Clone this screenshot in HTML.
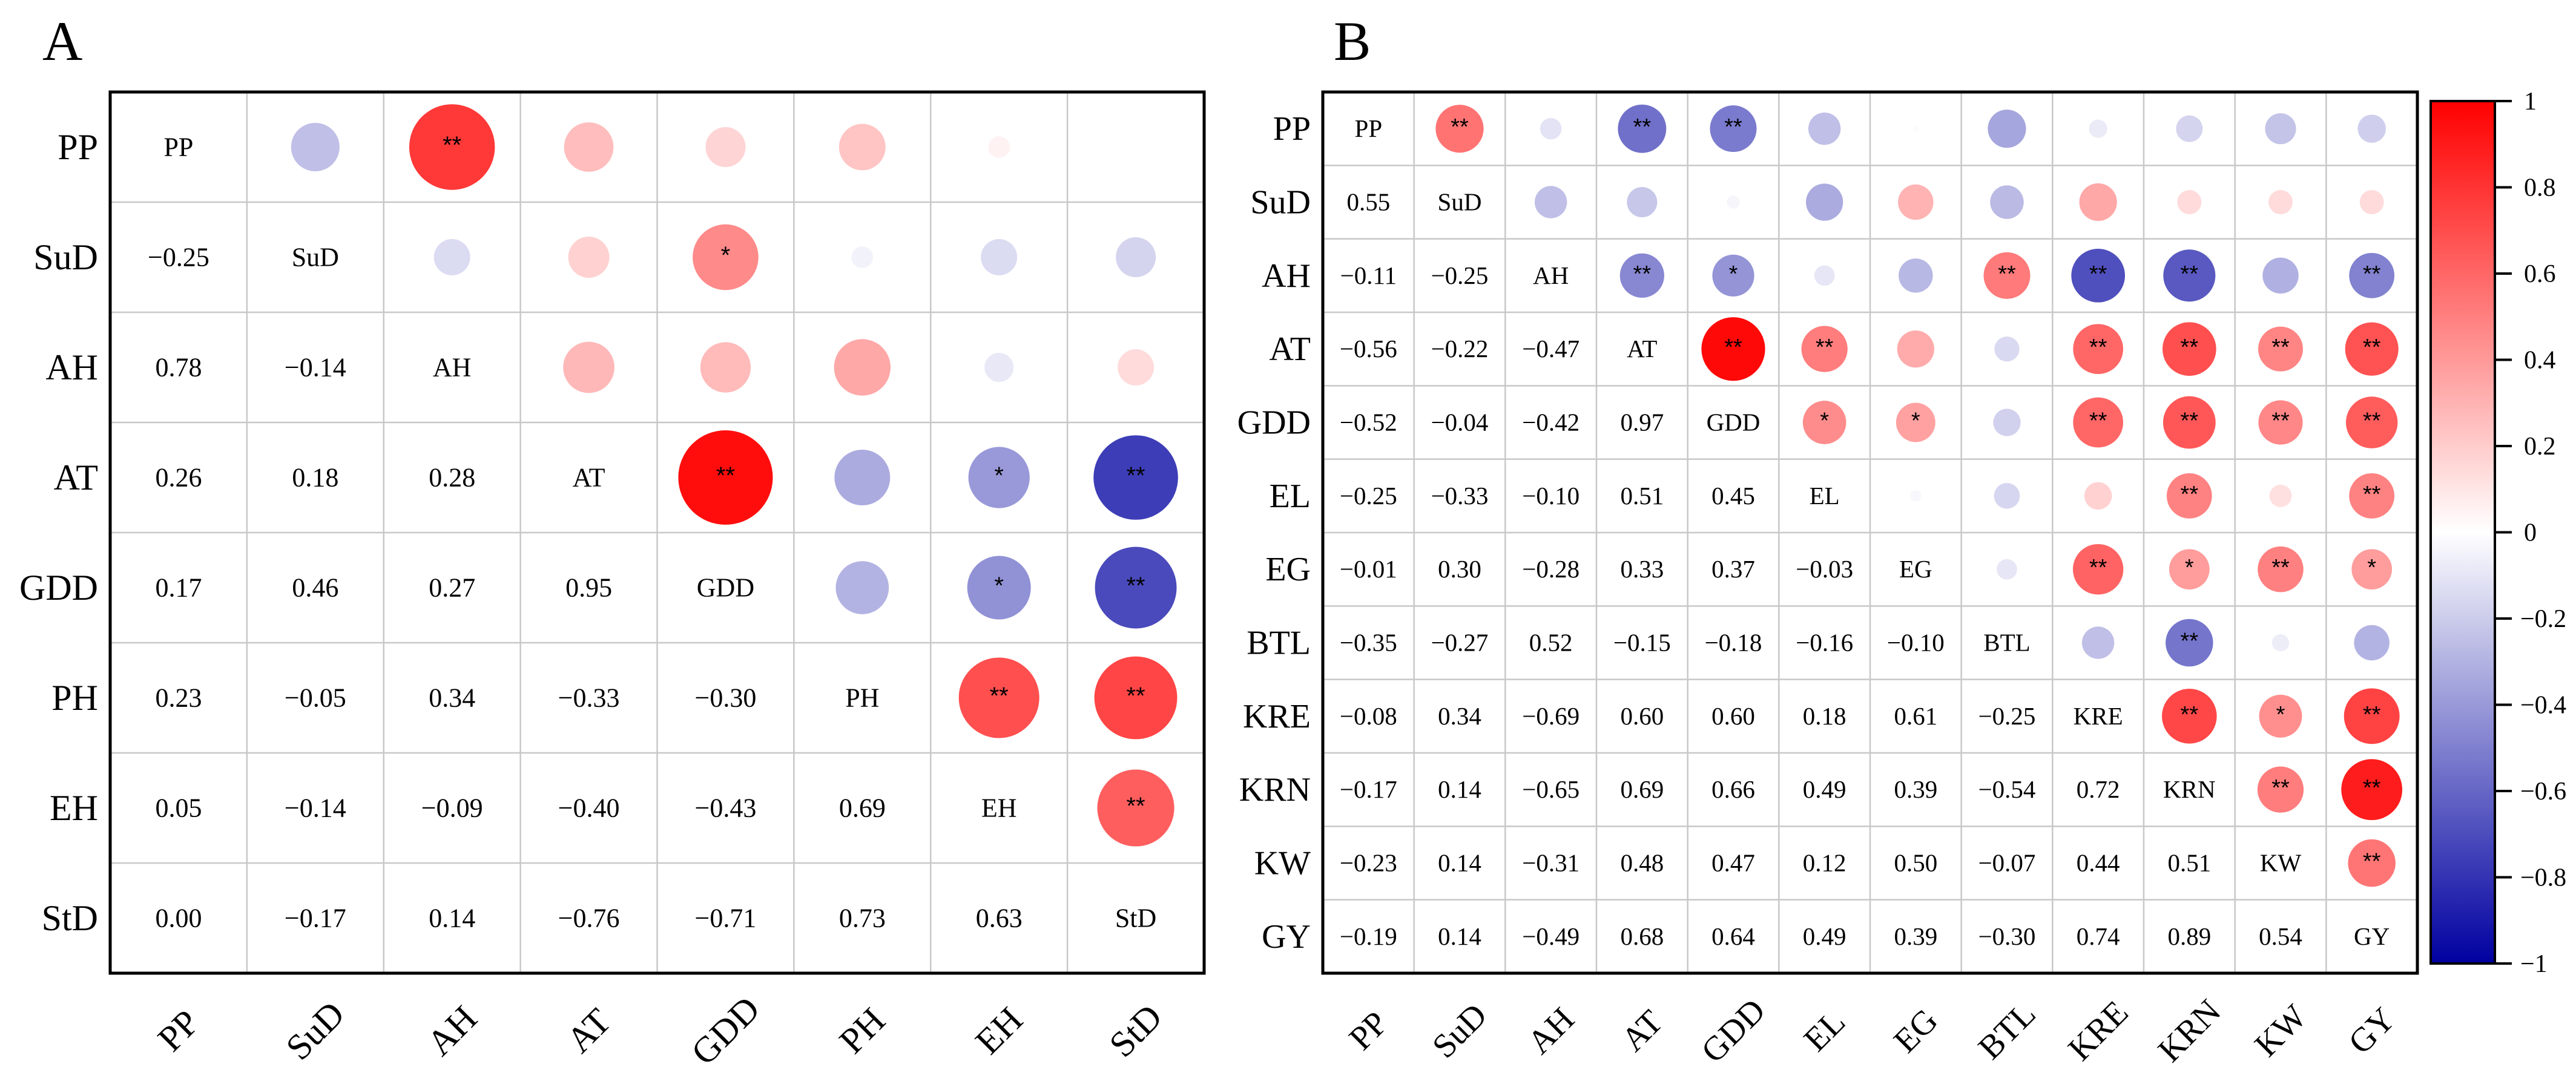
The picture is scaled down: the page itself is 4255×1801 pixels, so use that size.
<!DOCTYPE html>
<html><head><meta charset="utf-8"><style>
html,body{margin:0;padding:0;background:#fff;}
svg{display:block;font-family:"Liberation Serif",serif;}
</style></head><body>
<svg id="fig" width="4255" height="1801" viewBox="0 0 4255 1801" xmlns="http://www.w3.org/2000/svg">
<defs>
<linearGradient id="cbgrad" x1="0" y1="0" x2="0" y2="1">
<stop offset="0" stop-color="rgb(255,0,0)"/>
<stop offset="0.5" stop-color="rgb(255,255,255)"/>
<stop offset="1" stop-color="rgb(0,0,160)"/>
</linearGradient>
</defs>
</svg>
<script>
const varsA = ["PP","SuD","AH","AT","GDD","PH","EH","StD"];
const lowerA = [
[],
[-0.25],
[0.78,-0.14],
[0.26,0.18,0.28],
[0.17,0.46,0.27,0.95],
[0.23,-0.05,0.34,-0.33,-0.30],
[0.05,-0.14,-0.09,-0.40,-0.43,0.69],
[0.00,-0.17,0.14,-0.76,-0.71,0.73,0.63]
];
const starsA = {"0-2":"**","1-4":"*","3-4":"**","3-6":"*","3-7":"**","4-6":"*","4-7":"**","5-6":"**","5-7":"**","6-7":"**"};
const varsB = ["PP","SuD","AH","AT","GDD","EL","EG","BTL","KRE","KRN","KW","GY"];
const lowerB = [
[],
[0.55],
[-0.11,-0.25],
[-0.56,-0.22,-0.47],
[-0.52,-0.04,-0.42,0.97],
[-0.25,-0.33,-0.10,0.51,0.45],
[-0.01,0.30,-0.28,0.33,0.37,-0.03],
[-0.35,-0.27,0.52,-0.15,-0.18,-0.16,-0.10],
[-0.08,0.34,-0.69,0.60,0.60,0.18,0.61,-0.25],
[-0.17,0.14,-0.65,0.69,0.66,0.49,0.39,-0.54,0.72],
[-0.23,0.14,-0.31,0.48,0.47,0.12,0.50,-0.07,0.44,0.51],
[-0.19,0.14,-0.49,0.68,0.64,0.49,0.39,-0.30,0.74,0.89,0.54]
];
const starsB = {"0-1":"**","0-3":"**","0-4":"**",
"2-3":"**","2-4":"*","2-7":"**","2-8":"**","2-9":"**","2-11":"**",
"3-4":"**","3-5":"**","3-8":"**","3-9":"**","3-10":"**","3-11":"**",
"4-5":"*","4-6":"*","4-8":"**","4-9":"**","4-10":"**","4-11":"**",
"5-9":"**","5-11":"**",
"6-8":"**","6-9":"*","6-10":"**","6-11":"*",
"7-9":"**",
"8-9":"**","8-10":"*","8-11":"**",
"9-10":"**","9-11":"**",
"10-11":"**"};
const cbTicks = [1,0.8,0.6,0.4,0.2,0,-0.2,-0.4,-0.6,-0.8,-1];

const NS="http://www.w3.org/2000/svg";
const svg=document.getElementById('fig');
function mk(tag,attrs,parent){const e=document.createElementNS(NS,tag);for(const k in attrs)e.setAttribute(k,attrs[k]);(parent||svg).appendChild(e);return e;}
function color(r){
  if(r>=0){const t=r;return `rgb(255,${Math.round(255*(1-t))},${Math.round(255*(1-t))})`;}
  const t=-r;return `rgb(${Math.round(255*(1-t))},${Math.round(255*(1-t))},${Math.round(255-95*t)})`;
}
function fmt(v){const s=Math.abs(v).toFixed(2);return (v<0?"\u22120":"0")+s.slice(1);}

function panel(o){
  const n=o.vars.length;
  const cw=(o.x1-o.x0)/n, ch=(o.y1-o.y0)/n;
  const xs=i=>o.x0+cw*(i+0.5), ys=i=>o.y0+ch*(i+0.5);
  const g=mk('g',{});
  
  
  const val=(i,j)=> i>j? o.lower[i][j] : o.lower[j][i];
  // grid
  for(let k=1;k<n;k++){
    const gx=mk('line',{x1:o.x0+cw*k,x2:o.x0+cw*k,y1:o.y0,y2:o.y1,stroke:'#c8c8c8','stroke-width':2.5},g);
    
    
    const gy=mk('line',{y1:o.y0+ch*k,y2:o.y0+ch*k,x1:o.x0,x2:o.x1,stroke:'#c8c8c8','stroke-width':2.5},g);
    
    
  }
  const rmax=Math.min(cw,ch)/2*0.88;
  for(let i=0;i<n;i++){
    for(let j=0;j<n;j++){
      if(i===j){
        const t=mk('text',{x:xs(j),y:ys(i)+o.cf*0.33,'font-size':o.cf,'text-anchor':'middle'},g);
        t.textContent=o.vars[i];
        
        
      } else if(i>j){
        const t=mk('text',{x:xs(j),y:ys(i)+o.cf*0.33,'font-size':o.cf,'text-anchor':'middle'},g);
        t.textContent=fmt(val(i,j));
        
        
      } else {
        const v=val(i,j);
        const c=mk('circle',{cx:xs(j),cy:ys(i),r:rmax*Math.sqrt(Math.abs(v)),fill:color(v)},g);
        
        
        const st=o.stars[i+'-'+j];
        if(st){
          const s=mk('text',{x:xs(j),y:ys(i)+o.sf*0.25,'font-size':o.sf,'text-anchor':'middle','font-family':'Liberation Sans, sans-serif'},g);
          s.textContent=st;
          
          
        }
      }
    }
    const rl=mk('text',{x:o.x0-20,y:ys(i)+o.lf*0.33,'font-size':o.lf,'text-anchor':'end'},g);
    rl.textContent=o.vars[i];
    
    
    const cx=xs(i), cy=o.y1+95;
    const cl=mk('text',{x:cx,y:cy+o.lf*0.33,'font-size':o.lf,'text-anchor':'middle',transform:`rotate(-45 ${cx} ${cy})`},g);
    cl.textContent=o.vars[i];
    
    
  }
  const b=mk('rect',{x:o.x0,y:o.y0,width:o.x1-o.x0,height:o.y1-o.y0,fill:'none',stroke:'#000','stroke-width':5},g);
  
  
  const pl=mk('text',{x:o.lx,y:o.ly,'font-size':92},g);
  pl.textContent=o.label;
  
  
}
panel({name:'panel-a',vars:varsA,lower:lowerA,stars:starsA,x0:182,x1:1989,y0:152,y1:1608,cf:44,lf:60,sf:40,label:'A',lx:70,ly:99});
panel({name:'panel-b',vars:varsB,lower:lowerB,stars:starsB,x0:2185,x1:3993,y0:152,y1:1608,cf:41,lf:56,sf:38,label:'B',lx:2203,ly:99});

// colorbar
const cbx0=4015,cbx1=4121,cby0=167,cby1=1592;
const cbY=v=>cby0+(1-v)/2*(cby1-cby0);
const cb=mk('rect',{x:cbx0,y:cby0,width:cbx1-cbx0,height:cby1-cby0,fill:'url(#cbgrad)',stroke:'#000','stroke-width':4});


cbTicks.forEach(v=>{
  const y=cbY(v);
  const tk=mk('line',{x1:cbx1,x2:cbx1+28,y1:y,y2:y,stroke:'#000','stroke-width':4});
  
  
  const t=mk('text',{x:cbx1+(v<0?42:48),y:y+14,'font-size':42});
  t.textContent=(v<0?'\u2212':'')+String(Math.abs(v));
  
  
});
</script>
</body></html>
